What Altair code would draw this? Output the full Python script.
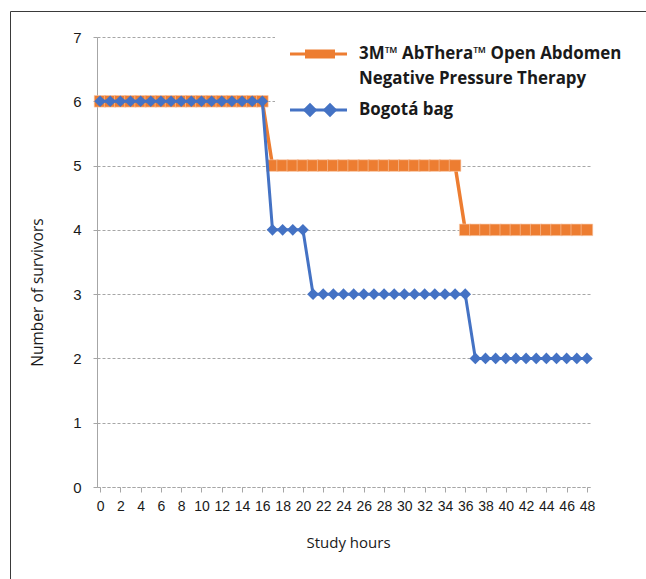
import altair as alt
import pandas as pd

# Survivors per study hour for each group
hours = [0, 1, 2, 3, 4, 5, 6, 7, 8, 9, 10, 11, 12, 13, 14, 15, 16, 17, 18, 19, 20,
         21, 22, 23, 24, 25, 26, 27, 28, 29, 30, 31, 32, 33, 34, 35, 36, 37, 38, 39,
         40, 41, 42, 43, 44, 45, 46, 47, 48]
abthera = [6, 6, 6, 6, 6, 6, 6, 6, 6, 6, 6, 6, 6, 6, 6, 6, 6, 5, 5, 5, 5,
           5, 5, 5, 5, 5, 5, 5, 5, 5, 5, 5, 5, 5, 5, 5, 4, 4, 4, 4,
           4, 4, 4, 4, 4, 4, 4, 4, 4]
bogota = [6, 6, 6, 6, 6, 6, 6, 6, 6, 6, 6, 6, 6, 6, 6, 6, 6, 4, 4, 4, 4,
          3, 3, 3, 3, 3, 3, 3, 3, 3, 3, 3, 3, 3, 3, 3, 3, 2, 2, 2,
          2, 2, 2, 2, 2, 2, 2, 2, 2]

series_names = ["3M™ AbThera™ Open Abdomen Negative Pressure Therapy", "Bogotá bag"]
legend_lines = [["3M™ AbThera™ Open Abdomen", "Negative Pressure Therapy"], ["Bogotá bag"]]
series_colors = ["#ED7D31", "#4472C4"]

x_ticks = [0, 2, 4, 6, 8, 10, 12, 14, 16, 18, 20, 22, 24, 26, 28, 30, 32, 34, 36, 38, 40,
           42, 44, 46, 48]
y_ticks = [0, 1, 2, 3, 4, 5, 6, 7]

df = pd.DataFrame({
    "hour": hours + hours,
    "survivors": abthera + bogota,
    "series": [series_names[0]] * len(hours) + [series_names[1]] * len(hours),
})

AXIS_FONT = "Liberation Sans"
TITLE_FONT = "Open Sans"
GRID_GRAY = "#A6A6A6"

x_enc = alt.X(
    "hour:Q",
    scale=alt.Scale(domain=[-0.3, 48.4], nice=False, zero=False),
    axis=alt.Axis(
        values=x_ticks, title="Study hours", grid=False,
        labelFont=AXIS_FONT, labelFontSize=14, labelColor="#1a1a1a", labelPadding=7,
        labelFlush=False, labelOverlap=False,
        tickColor=GRID_GRAY, tickSize=5,
        domainColor=GRID_GRAY, domainDash=[3, 2],
        titleFont=TITLE_FONT, titleFontSize=15, titleFontWeight="normal", titleColor="#1a1a1a",
        titleX=251, titleY=55, titleAlign="center", titleBaseline="middle",
    ),
)
y_enc = alt.Y(
    "survivors:Q",
    scale=alt.Scale(domain=[0, 7], nice=False),
    axis=alt.Axis(
        values=y_ticks, title="Number of survivors", grid=True,
        gridColor=GRID_GRAY, gridDash=[3, 2], gridWidth=1,
        labelFont=AXIS_FONT, labelFontSize=15, labelColor="#1a1a1a", labelPadding=12,
        tickColor=GRID_GRAY, tickSize=4,
        domainColor=GRID_GRAY,
        titleFont=TITLE_FONT, titleFontSize=15.5, titleFontWeight="normal", titleColor="#1a1a1a",
        titleAngle=270, titleX=-60, titleY=255, titleAlign="center", titleBaseline="middle",
    ),
)

base = alt.Chart(df).encode(x=x_enc, y=y_enc)

ab = base.transform_filter(alt.datum.series == series_names[0])
bo = base.transform_filter(alt.datum.series == series_names[1])

ab_line = ab.mark_line(color=series_colors[0], strokeWidth=3.5)
ab_pts = ab.mark_point(shape="square", size=135, filled=True, color=series_colors[0],
                       stroke="#F8CBAD", strokeWidth=0.6, opacity=1)
bo_line = bo.mark_line(color=series_colors[1], strokeWidth=3)
bo_pts = bo.mark_point(shape="diamond", size=135, filled=True, color=series_colors[1], opacity=1)

one = pd.DataFrame({"k": [0]})

# Outer frame
frame_left = alt.Chart(one).mark_rule(color="#3a3a3a", strokeWidth=1).encode(
    x=alt.value(-86.5), y=alt.value(-25.5), y2=alt.value(600))
frame_top = alt.Chart(one).mark_rule(color="#3a3a3a", strokeWidth=1).encode(
    x=alt.value(-86.5), x2=alt.value(600), y=alt.value(-25.5))

# Legend panel
leg_bg = alt.Chart(one).mark_rect(color="white").encode(
    x=alt.value(178), x2=alt.value(540), y=alt.value(-8), y2=alt.value(90))
leg_ab_line = alt.Chart(one).mark_rule(color=series_colors[0], strokeWidth=3).encode(
    x=alt.value(193), x2=alt.value(250), y=alt.value(17))
leg_ab_box = alt.Chart(one).mark_rect(color=series_colors[0]).encode(
    x=alt.value(208), x2=alt.value(238), y=alt.value(12.5), y2=alt.value(21.5))
leg_bo_line = alt.Chart(one).mark_rule(color=series_colors[1], strokeWidth=3).encode(
    x=alt.value(193), x2=alt.value(250), y=alt.value(73))
leg_bo_pts = alt.Chart(pd.DataFrame({"px": [213, 233]})).mark_point(
    shape="diamond", size=210, filled=True, color=series_colors[1], opacity=1).encode(
    x=alt.X("px:Q", scale=None), y=alt.value(73))

leg_text_df = pd.DataFrame({
    "label": legend_lines[0] + legend_lines[1],
    "ty": [17, 42, 73],
})
leg_text = alt.Chart(leg_text_df).mark_text(
    align="left", baseline="middle", font=TITLE_FONT, fontSize=16.9, fontWeight="bold",
    color="#1a1a1a").encode(
    x=alt.value(262), y=alt.Y("ty:Q", scale=None), text="label:N")

chart = alt.layer(
    ab_line, ab_pts, bo_line, bo_pts,
    leg_bg, leg_ab_line, leg_ab_box, leg_bo_line, leg_bo_pts, leg_text,
    frame_left, frame_top,
).properties(
    width=494, height=450,
    autosize=alt.AutoSizeParams(type="none"),
    padding={"left": 97, "top": 37, "right": 55, "bottom": 92},
    background="white",
).configure_view(stroke=None)

chart.save("out.html", embed_options={"renderer": "svg", "actions": False})
